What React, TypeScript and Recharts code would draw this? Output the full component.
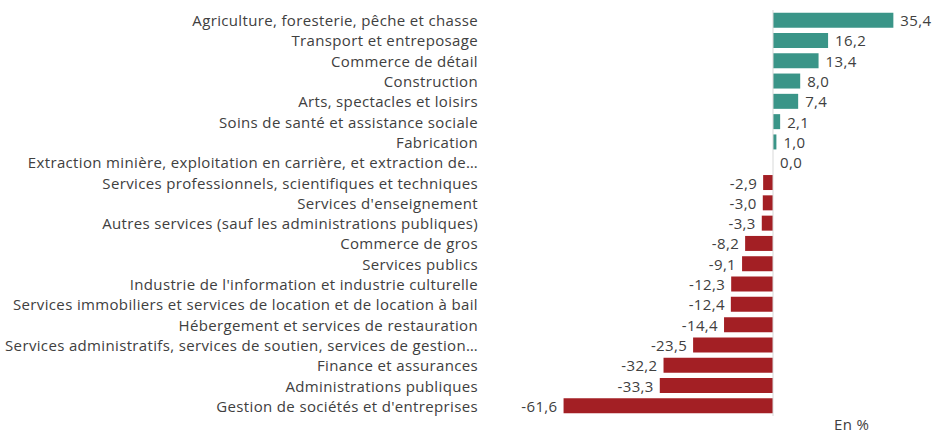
import React from "react";
import { BarChart, Bar, XAxis, YAxis, Cell, LabelList, ReferenceLine } from "recharts";

const categories = [
  "Agriculture, foresterie, pêche et chasse",
  "Transport et entreposage",
  "Commerce de détail",
  "Construction",
  "Arts, spectacles et loisirs",
  "Soins de santé et assistance sociale",
  "Fabrication",
  "Extraction minière, exploitation en carrière, et extraction de…",
  "Services professionnels, scientifiques et techniques",
  "Services d'enseignement",
  "Autres services (sauf les administrations publiques)",
  "Commerce de gros",
  "Services publics",
  "Industrie de l'information et industrie culturelle",
  "Services immobiliers et services de location et de location à bail",
  "Hébergement et services de restauration",
  "Services administratifs, services de soutien, services de gestion…",
  "Finance et assurances",
  "Administrations publiques",
  "Gestion de sociétés et d'entreprises",
];

const values = [35.4, 16.2, 13.4, 8.0, 7.4, 2.1, 1.0, 0.0, -2.9, -3.0, -3.3, -8.2, -9.1, -12.3, -12.4, -14.4, -23.5, -32.2, -33.3, -61.6];

const unitLabel = "En %";

const data = categories.map((c, i) => ({ name: c, value: values[i] }));

const POS = "#3a9588";
const NEG = "#a31f24";
const TEXT = "#404040";
const FONT = "'Open Sans', sans-serif";
const FS = 15;
const LS = 0.35;

const fmt = (v: number) => v.toFixed(1).replace(".", ",");

const ValueLabel = (props: any) => {
  const { x, y, width, height, value } = props;
  const left = Math.min(x, x + width);
  const right = Math.max(x, x + width);
  const cy = y + height / 2;
  if (value < 0) {
    return (
      <text x={left - 6} y={cy} textAnchor="end" dominantBaseline="central" fill={TEXT} fontSize={FS} fontFamily={FONT} letterSpacing={LS}>
        {fmt(value)}
      </text>
    );
  }
  return (
    <text x={right + 7} y={cy} textAnchor="start" dominantBaseline="central" fill={TEXT} fontSize={FS} fontFamily={FONT} letterSpacing={LS}>
      {fmt(value)}
    </text>
  );
};

const CatTick = (props: any) => {
  const { x, y, payload } = props;
  return (
    <text x={x} y={y} textAnchor="end" dominantBaseline="central" fill={TEXT} fontSize={FS} fontFamily={FONT} letterSpacing={LS}>
      {payload.value}
    </text>
  );
};

export default function App() {
  return (
    <div style={{ position: "absolute", left: 0, top: 0, width: 947, height: 434, background: "#fff" }}>
      <BarChart
        width={947}
        height={434}
        data={data}
        layout="vertical"
        margin={{ top: 10, right: 38, bottom: 18, left: 0 }}
        barCategoryGap="13%"
      >
        <XAxis type="number" domain={[-80, 40]} hide />
        <YAxis
          type="category"
          dataKey="name"
          width={501}
          tickLine={false}
          axisLine={false}
          tickSize={0}
          tickMargin={23}
          interval={0}
          tick={<CatTick />}
        />
        <ReferenceLine x={0} stroke="#d9d9d9" strokeWidth={1} />
        <Bar dataKey="value" isAnimationActive={false} minPointSize={0.01}>
          {data.map((d, i) => (
            <Cell key={i} fill={d.value < 0 ? NEG : POS} />
          ))}
          <LabelList dataKey="value" content={<ValueLabel />} />
        </Bar>
      </BarChart>
      <div style={{ position: "absolute", left: 834, top: 417, fontFamily: FONT, fontSize: FS, color: TEXT, lineHeight: "15px", letterSpacing: LS }}>
        {unitLabel}
      </div>
    </div>
  );
}
